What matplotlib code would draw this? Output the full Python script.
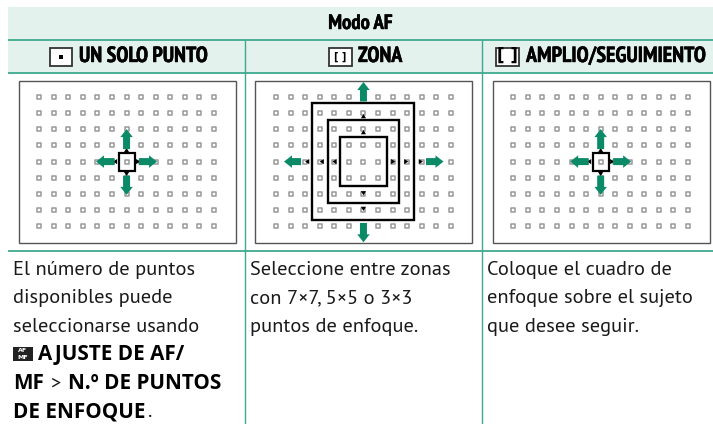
import matplotlib
matplotlib.use("Agg")
import matplotlib.pyplot as plt
import matplotlib.patheffects as pe
from matplotlib.patches import Rectangle, Polygon

# tabla modo AF
title = "Modo AF"
headers = ["UN SOLO PUNTO", "ZONA", "AMPLIO/SEGUIMIENTO"]
col1_lines = ["El número de puntos", "disponibles puede", "seleccionarse usando"]
col2_lines = ["Seleccione entre zonas", "con 7×7, 5×5 o 3×3", "puntos de enfoque."]
col3_lines = ["Coloque el cuadro de", "enfoque sobre el sujeto", "que desee seguir."]

n_cols = 13
n_rows = 9
# recuadros de zona (7x7, 5x5, 3x3) en pixeles
zone_w = [102, 71.7, 47.7]
zone_h = [116.7, 82.7, 49.3]

GREEN = "#3fa98f"
BAND = "#e4f2ed"
ARROW = "#0b8a68"
NARROW = ["PT Sans Narrow", "Fira Sans Condensed", "Liberation Sans"]
BODY = ["PT Sans", "Open Sans"]
BOLD = ["Open Sans", "Liberation Sans"]
thick = [pe.withStroke(linewidth=0.3, foreground="black")]

fig = plt.figure(figsize=(7.13, 4.24), dpi=100)
ax = fig.add_axes([0, 0, 1, 1])
ax.set_xlim(0, 713)
ax.set_ylim(424, 0)
ax.axis("off")

# bandas y lineas
ax.add_patch(Rectangle((8, 7), 705, 65.5, fc=BAND, ec="none", zorder=0))
for y in [40, 72.5, 251]:
    ax.plot([8, 713], [y, y], color=GREEN, lw=1.3, solid_capstyle="butt")
for x in [245, 482]:
    ax.plot([x, x], [40, 424], color=GREEN, lw=1.0, solid_capstyle="butt")

ax.text(360.5, 23.5, title, family=NARROW, weight="bold", fontsize=15, ha="center", va="center", path_effects=thick)


def arrow(tip, tail, width=7, head_w=12.5, head_l=8):
    dx, dy = tail[0] - tip[0], tail[1] - tip[1]
    ln = (dx**2 + dy**2) ** 0.5
    ux, uy = dx / ln, dy / ln
    px, py = -uy, ux
    pts = [
        tip,
        (tip[0] + ux * head_l + px * head_w / 2, tip[1] + uy * head_l + py * head_w / 2),
        (tip[0] + ux * head_l + px * width / 2, tip[1] + uy * head_l + py * width / 2),
        (tail[0] + px * width / 2, tail[1] + py * width / 2),
        (tail[0] - px * width / 2, tail[1] - py * width / 2),
        (tip[0] + ux * head_l - px * width / 2, tip[1] + uy * head_l - py * width / 2),
        (tip[0] + ux * head_l - px * head_w / 2, tip[1] + uy * head_l - py * head_w / 2),
    ]
    ax.add_patch(Polygon(pts, closed=True, fc=ARROW, ec="none", zorder=6))


def tri(x, y, d):
    s = 2.6
    v = {"u": [(x, y - s), (x - s, y + s * 0.6), (x + s, y + s * 0.6)],
         "d": [(x, y + s), (x - s, y - s * 0.6), (x + s, y - s * 0.6)],
         "l": [(x - s, y), (x + s * 0.6, y - s), (x + s * 0.6, y + s)],
         "r": [(x + s, y), (x - s * 0.6, y - s), (x - s * 0.6, y + s)]}[d]
    ax.add_patch(Polygon(v, closed=True, fc="black", ec="none", zorder=5))


def panel(x0):
    # x0 = borde izquierdo del recuadro
    ax.add_patch(Rectangle((x0, 81), 217, 162, fc="white", ec="#555555", lw=1.0, zorder=1))
    xs = [x0 + 20.7 + 14.56 * i for i in range(n_cols)]
    ys = [96.8 + 16.2 * j for j in range(n_rows)]
    for y in ys:
        ax.scatter(xs, [y] * n_cols, marker="s", s=8.5, fc="white", ec="#999999", lw=1.1, zorder=2)
    return x0 + 20.7 + 14.56 * 6, ys[4]


def small_zone(cx, cy):
    ax.add_patch(Rectangle((cx - 8, cy - 8.8), 16.4, 18, fc="none", ec="black", lw=1.6, zorder=5))
    arrow((cx, cy - 32.5), (cx, cy - 12.5))
    arrow((cx, cy + 33.3), (cx, cy + 14))
    arrow((cx - 30.5, cy), (cx - 12, cy))
    arrow((cx + 30.5, cy), (cx + 12.5, cy))
    tri(cx, cy - 11, "u")
    tri(cx, cy + 12, "d")
    tri(cx - 11, cy, "l")
    tri(cx + 11, cy, "r")


cx, cy = panel(18.5)
small_zone(cx, cy)
cx3, cy3 = panel(492.6)
small_zone(cx3, cy3)

cx2, cy2 = panel(255.4)
for w, h in zip(zone_w, zone_h):
    ax.add_patch(Rectangle((cx2 - w / 2, cy2 - h / 2), w, h, fc="none", ec="black", lw=1.7, zorder=5))
arrow((cx2, 82), (cx2, 101.5))
arrow((cx2, 242.3), (cx2, 223))
arrow((284, cy2), (301, cy2))
arrow((443.5, cy2), (426, cy2))
for x in [307.7, 322.3, 335]:
    tri(x, cy2, "l")
for x in [392.7, 405.7, 420.3]:
    tri(x, cy2, "r")
for y in [116.7, 132.7]:
    tri(cx2, y, "u")
for y in [192.7, 208.3]:
    tri(cx2, y, "d")

# cabeceras con icono
HFS = 15.8
ax.text(79, 56.5, headers[0], family=NARROW, weight="bold", fontsize=HFS, ha="left", va="center", path_effects=thick)
ax.text(358, 56.5, headers[1], family=NARROW, weight="bold", fontsize=HFS, ha="left", va="center", path_effects=thick)
ax.text(526, 56.5, headers[2], family=NARROW, weight="bold", fontsize=HFS, ha="left", va="center", path_effects=thick)

for x0 in [49.5, 329, 496]:
    ax.add_patch(Rectangle((x0, 48), 22.5, 17.5, fc="white", ec="#333333", lw=1.3, zorder=3))
ax.add_patch(Rectangle((58.5, 54.5), 4, 4, fc="black", ec="none", zorder=4))
ax.text(340.3, 56.5, "[ ]", fontsize=7, weight="bold", family="DejaVu Sans", ha="center", va="center", zorder=4)
ax.text(507.2, 56, "[ ]", fontsize=12, weight="bold", family="DejaVu Sans", ha="center", va="center", zorder=4)

# texto inferior
baselines = [275, 303.4, 331.8, 360.4, 388.8, 417.2]
BFS = 14.7
BBFS = 14.9
for i, s in enumerate(col1_lines):
    ax.text(13, baselines[i], s, family=BODY, fontsize=BFS, va="baseline", color="#1a1a1a")
for i, s in enumerate(col2_lines):
    ax.text(250, baselines[i], s, family=BODY, fontsize=BFS, va="baseline", color="#1a1a1a")
for i, s in enumerate(col3_lines):
    ax.text(487, baselines[i], s, family=BODY, fontsize=BFS, va="baseline", color="#1a1a1a")

# icono AF/MF
ax.add_patch(Rectangle((13, 347), 20, 14, fc="#222222", ec="none"))
ax.text(23, 350.8, "AF", fontsize=4.5, color="white", weight="bold", ha="center", va="center")
ax.text(23, 357.5, "MF", fontsize=4.5, color="white", weight="bold", ha="center", va="center")
ax.text(38, baselines[3], "AJUSTE DE AF/", family=BOLD, weight="bold", fontsize=BBFS, va="baseline", color="black")
ax.text(13, baselines[4], "MF", family=BOLD, weight="bold", fontsize=BBFS, va="baseline", color="black")
ax.text(50, baselines[4], ">", family=BODY, fontsize=BFS, va="baseline", color="#1a1a1a")
ax.text(68, baselines[4], "N.º DE PUNTOS", family=BOLD, weight="bold", fontsize=BBFS, va="baseline", color="black")
ax.text(13, baselines[5], "DE ENFOQUE", family=BOLD, weight="bold", fontsize=BBFS, va="baseline", color="black")
ax.text(148, baselines[5], ".", family=BODY, fontsize=BFS, va="baseline", color="#1a1a1a")

fig.savefig("out.png", dpi=100)
